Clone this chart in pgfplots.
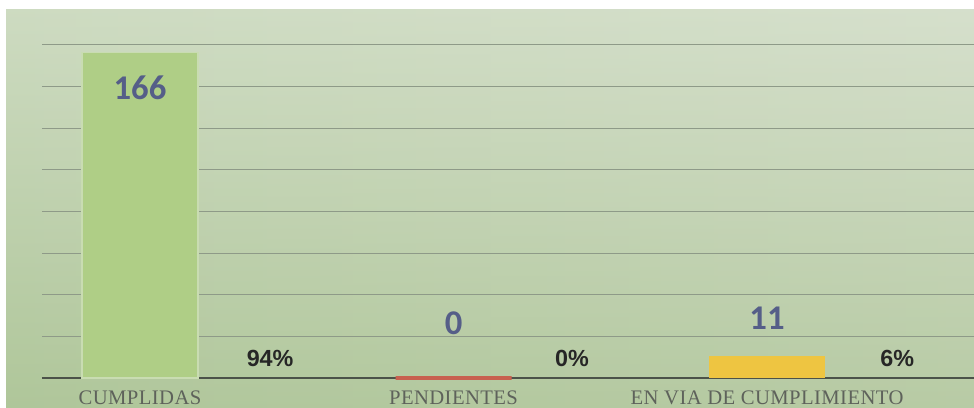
\documentclass[border=0pt]{standalone}
\usepackage{fontspec}
\setmainfont{Liberation Serif}
\newfontfamily\calib{Carlito}
\newfontfamily\arialf{Liberation Sans}
\usepackage{pgfplots}
\pgfplotsset{compat=1.18}

\definecolor{bgleft}{HTML}{B3C8A0}
\definecolor{bgmid}{HTML}{DFE6D9}
\definecolor{bgright}{HTML}{C0CFB1}
\definecolor{bgbot}{HTML}{A9C48F}
\definecolor{gridc}{HTML}{8E9A88}
\definecolor{basec}{HTML}{4B5249}
\definecolor{barg}{HTML}{AFCE86}
\definecolor{bargl}{HTML}{C9DCB2}
\definecolor{barr}{HTML}{C8604F}
\definecolor{bary}{HTML}{EEC541}
\definecolor{valc}{HTML}{555E88}
\definecolor{catc}{HTML}{5E625B}

\begin{document}
\begin{tikzpicture}[x=0.75pt,y=0.75pt]
\useasboundingbox (0,0) rectangle (974,407);
\fill[white] (0,0) rectangle (974,407);
\shade[left color=bgleft, middle color=bgmid, right color=bgright] (6,0) rectangle (974,397);
\shade[top color=white, bottom color=bgbot, opacity=0.35] (6,0) rectangle (974,397);

\begin{axis}[
    at={(105pt,21.75pt)}, anchor=origin,
    scale only axis,
    width=699pt, height=249.75pt,
    xmin=-0.3126, xmax=2.66,
    ymin=0, ymax=170,
    axis lines*=left,
    y axis line style={draw=none},
    x axis line style={color=basec, line width=1.5pt},
    major tick length=0pt,
    xtick={0,1,2},
    xticklabels={CUMPLIDAS, PENDIENTES, EN VIA DE CUMPLIMIENTO},
    xticklabel style={font=\fontsize{15.5}{15.5}\selectfont\addfontfeatures{LetterSpace=2}, text=catc, anchor=base, inner sep=0pt, yshift=-19.5pt},
    ytick={21.25,42.5,63.75,85,106.25,127.5,148.75,170},
    yticklabels={},
    ymajorgrids,
    major grid style={color=gridc, line width=0.75pt},
    clip=false,
]
\addplot[ybar, bar width=0.37, fill=barg, draw=bargl, line width=0.8pt,
    nodes near coords, point meta=explicit symbolic,
    nodes near coords style={anchor=center, yshift=-26.25pt, text=valc,
        font=\calib\bfseries\fontsize{26}{26}\selectfont}]
    coordinates {(0,166) [166]};
\addplot[ybar, bar width=0.37, fill=barr, draw=barr, line width=2.6pt,
    nodes near coords, point meta=explicit symbolic,
    nodes near coords style={anchor=center, yshift=41.25pt, text=valc,
        font=\calib\bfseries\fontsize{26}{26}\selectfont}]
    coordinates {(1,0) [0]};
\addplot[ybar, bar width=0.37, fill=bary, draw=none,
    nodes near coords, point meta=explicit symbolic,
    nodes near coords style={anchor=center, yshift=28.9pt, text=valc,
        font=\calib\bfseries\fontsize{26}{26}\selectfont}]
    coordinates {(2,11) [11]};
\addplot[draw=none, mark=none,
    nodes near coords, point meta=explicit symbolic,
    nodes near coords style={anchor=center, yshift=15pt, text=black!85,
        font=\arialf\bfseries\fontsize{17.5}{17.5}\selectfont}]
    coordinates {(0.415,0) [94\%] (1.378,0) [0\%] (2.415,0) [6\%]};
\end{axis}
\end{tikzpicture}
\end{document}
